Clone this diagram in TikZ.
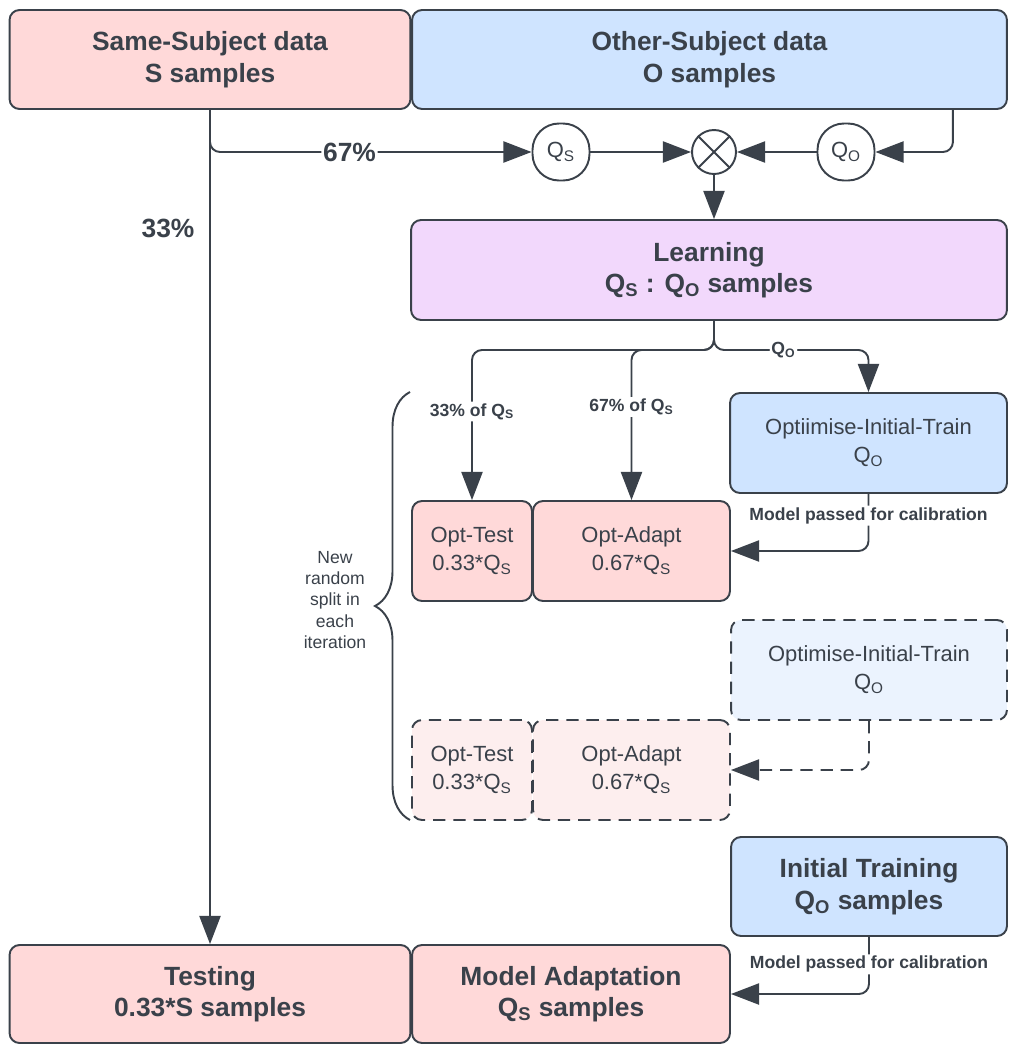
\documentclass[tikz,border=0pt]{standalone}
\usepackage{fontspec}
\setmainfont{Liberation Sans}
\usetikzlibrary{arrows.meta,decorations.pathreplacing}
\definecolor{ink}{HTML}{3A414A}
\definecolor{rosefill}{HTML}{FFD9D9}
\definecolor{skyfill}{HTML}{CFE4FF}
\definecolor{lilacfill}{HTML}{F2D8FC}
\definecolor{rosepale}{HTML}{FDEEEE}
\definecolor{skypale}{HTML}{EBF3FE}
\newcommand{\QS}{Q\textsubscript{S}}
\newcommand{\QO}{Q\textsubscript{O}}
\tikzset{
	blk/.style={draw=ink, line width=1.1pt, rounded corners=0.2cm, text=ink, align=center, inner sep=2pt, font=\fontsize{12.5}{16}\selectfont},
	bigblk/.style={blk, font=\bfseries\fontsize{15}{18}\selectfont},
	ghost/.style={dash pattern=on 7pt off 4.5pt},
	link/.style={draw=ink, line width=1.1pt, rounded corners=0.2cm, -{Triangle[length=16pt,width=12pt]}},
	tag/.style={fill=white, text=ink, inner sep=1pt, font=\bfseries\fontsize{10}{12}\selectfont},
	bigtag/.style={tag, font=\bfseries\fontsize{15}{18}\selectfont},
	pill/.style={draw=ink, line width=1.1pt, rounded corners=0.53cm, minimum size=1.14cm, text=ink, inner sep=0pt, font=\fontsize{12.5}{15}\selectfont},
}
\begin{document}
\begin{tikzpicture}[x=0.02cm, y=-0.02cm]
	\useasboundingbox (0,0) rectangle (1008,1045);
	% data sources
	\node[bigblk, fill=rosefill, minimum width=8.02cm, minimum height=1.98cm] (ss) at (210,59.5) {Same-Subject data\\S samples};
	\node[bigblk, fill=skyfill, minimum width=11.9cm, minimum height=1.98cm] (os) at (709.5,59.5) {Other-Subject data\\O samples};
	\node[pill] (qs) at (561,152) {\QS};
	\node[circle, draw=ink, line width=1.1pt, minimum size=0.88cm] (mix) at (714,152) {};
	\draw[ink, line width=1.1pt] (mix.north west) -- (mix.south east) (mix.north east) -- (mix.south west);
	\node[pill] (qo) at (846,152) {\QO};
	\node[bigblk, fill=lilacfill, minimum width=11.92cm, minimum height=2cm] (learn) at (709,270) {Learning\\\QS{} : \QO{} samples};
	% optimisation loop
	\node[blk, fill=skyfill, minimum width=5.54cm, minimum height=2cm] (oit) at (868.5,443) {Optiimise-Initial-Train\\\QO};
	\node[blk, fill=rosefill, minimum width=2.4cm, minimum height=2cm] (ot1) at (472,551) {Opt-Test\\0.33*\QS};
	\node[blk, fill=rosefill, minimum width=3.94cm, minimum height=2cm] (oa1) at (631.5,551) {Opt-Adapt\\0.67*\QS};
	\node[blk, ghost, fill=skypale, minimum width=5.52cm, minimum height=2cm] (oit2) at (869,670) {Optimise-Initial-Train\\\QO};
	\node[blk, ghost, fill=rosepale, minimum width=2.4cm, minimum height=2cm] (ot2) at (472,770) {Opt-Test\\0.33*\QS};
	\node[blk, ghost, fill=rosepale, minimum width=3.94cm, minimum height=2cm] (oa2) at (631.5,770) {Opt-Adapt\\0.67*\QS};
	\node[text=ink, align=center, font=\fontsize{10}{12}\selectfont] (why) at (335,600) {New\\random\\split in\\each\\iteration};
	\draw[ink, line width=1.1pt, decorate, decoration={brace, amplitude=0.7cm}] (410,820) -- (410,392);
	% final stage
	\node[bigblk, fill=skyfill, minimum width=5.52cm, minimum height=1.98cm] (it) at (869,886.5) {Initial Training\\\QO{} samples};
	\node[bigblk, fill=rosefill, minimum width=8.02cm, minimum height=1.96cm] (test) at (210,994) {Testing\\0.33*S samples};
	\node[bigblk, fill=rosefill, minimum width=6.36cm, minimum height=1.96cm] (adapt) at (571,994) {Model Adaptation\\\QS{} samples};
	% connectors
	\draw[link] (ss.south) -- (test.north);
	\node[bigtag] (pct33) at (168,228) {33\%};
	\draw[link] (ss.south) |- node[bigtag, pos=0.717] (pct67) {67\%} (qs.west);
	\draw[link] ([xshift=-1.1cm]os.south east) |- (qo.east);
	\draw[link] (qs) -- (mix);
	\draw[link] (qo) -- (mix);
	\draw[link] (mix) -- (mix |- learn.north);
	\coordinate (fork) at (714,350);
	\draw[link] (learn.south -| mix) -- (fork) -| node[tag, pos=0.705] {33\% of \QS} (ot1.north);
	\draw[link] (learn.south -| mix) -- (fork) -| node[tag, pos=0.69] {67\% of \QS} (oa1.north);
	\draw[link] (learn.south -| mix) -- (fork) -| node[tag, pos=0.225] {\QO} (oit.north);
	\draw[link] (oit.south) |- node[tag, pos=0.19] {Model passed for calibration} (oa1.east);
	\draw[link, ghost] (oit2.south) |- (oa2.east);
	\draw[link] (it.south) |- node[tag, pos=0.24] {Model passed for calibration} (adapt.east);
\end{tikzpicture}
\end{document}
